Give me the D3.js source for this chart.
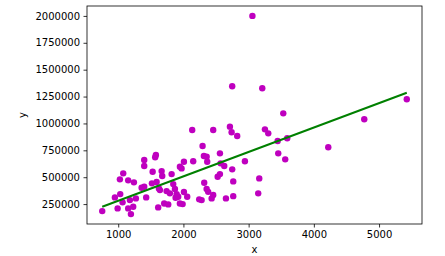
<!DOCTYPE html>
<html>
<head>
<meta charset="utf-8">
<script src="https://cdn.jsdelivr.net/npm/d3@7"></script>
<style>
  body { margin: 0; background: #fff; }
  svg { display: block; font-family: "DejaVu Sans", sans-serif; }
</style>
</head>
<body>
<svg id="chart" width="445" height="256"></svg>
<script>
// scatter data
const xValues = [755, 991, 949, 1031, 1067, 1026, 1077, 1153, 1241, 1153,
    1195, 1179, 1230, 1271, 1359, 1399, 1429, 1399, 1399, 1578,
    1567, 1528, 1517, 1589, 1613, 1666, 1675, 1624, 1640, 1705,
    1767, 1742, 1793, 1819, 1844, 1870, 1880, 1896, 1946, 1972,
    1920, 1946, 1988, 2008, 2058, 2008, 2135, 2150, 2242, 2279,
    2294, 2314, 2356, 2365, 2319, 2356, 2380, 2433, 2457, 2457,
    2560, 2570, 2626, 2525, 2560, 2652, 2713, 2739, 2825, 2748,
    2764, 2764, 2943, 3163, 3147, 2748, 3058, 3209, 3531, 3250,
    3301, 3445, 3592, 3454, 3561, 4221, 4773, 5425];
const yValues = [185000, 210000, 312000, 343000, 266000, 480000, 536000, 471000, 452000, 210000,
    157000, 287000, 225000, 303000, 402000, 411000, 312000, 604000, 660000, 706000,
    685000, 551000, 443000, 455000, 219000, 557000, 511000, 396000, 380000, 256000,
    247000, 371000, 350000, 529000, 436000, 390000, 309000, 343000, 597000, 582000,
    318000, 256000, 250000, 362000, 318000, 644000, 939000, 648000, 294000, 287000,
    790000, 697000, 690000, 644000, 448000, 390000, 364000, 303000, 334000, 939000,
    722000, 629000, 604000, 504000, 529000, 303000, 970000, 918000, 883000, 573000,
    461000, 324000, 648000, 489000, 350000, 1346000, 2000000, 1327000, 1094000, 945000,
    908000, 837000, 862000, 722000, 666000, 778000, 1039000, 1225000];

// fitted line end points
const lineX = [755, 5425];
const lineY = [225000, 1285000];

const xTicks = [1000, 2000, 3000, 4000, 5000];
const yTicks = [250000, 500000, 750000, 1000000, 1250000, 1500000, 1750000, 2000000];

const svg = d3.select("#chart");
const margin = { left: 87, right: 23, top: 6, bottom: 32 };
const W = 445, H = 256;

// matplotlib style 5% padding around the data
const pad = (ext) => {
    const r = ext[1] - ext[0];
    return [ext[0] - r * 0.05, ext[1] + r * 0.05];
};

const x = d3.scaleLinear()
    .domain(pad(d3.extent(xValues)))
    .range([margin.left, W - margin.right]);
const y = d3.scaleLinear()
    .domain(pad(d3.extent(yValues)))
    .range([H - margin.bottom, margin.top]);

const points = xValues.map((d, i) => ({ x: d, y: yValues[i] }));

svg.append("g")
    .selectAll("circle")
    .data(points)
    .join("circle")
    .attr("cx", d => x(d.x))
    .attr("cy", d => y(d.y))
    .attr("r", 3.2)
    .attr("fill", "#bf00bf");

svg.append("path")
    .datum(lineX.map((d, i) => [d, lineY[i]]))
    .attr("fill", "none")
    .attr("stroke", "#008000")
    .attr("stroke-width", 2)
    .attr("d", d3.line().x(d => x(d[0])).y(d => y(d[1])));

// axes
const xAxis = svg.append("g")
    .attr("transform", `translate(0,${H - margin.bottom})`)
    .call(d3.axisBottom(x).tickValues(xTicks).tickFormat(d3.format("d"))
        .tickSize(3.5).tickPadding(3.5).tickSizeOuter(0));
const yAxis = svg.append("g")
    .attr("transform", `translate(${margin.left},0)`)
    .call(d3.axisLeft(y).tickValues(yTicks).tickFormat(d3.format("d"))
        .tickSize(3.5).tickPadding(3.5).tickSizeOuter(0));

[xAxis, yAxis].forEach(g => {
    g.select(".domain").remove();
    g.selectAll("text").attr("font-size", 10).attr("fill", "#000")
        .attr("font-family", "DejaVu Sans, sans-serif");
    g.selectAll("line").attr("stroke", "#000").attr("stroke-width", 0.8);
});

// frame
svg.append("rect")
    .attr("x", margin.left)
    .attr("y", margin.top)
    .attr("width", W - margin.left - margin.right)
    .attr("height", H - margin.top - margin.bottom)
    .attr("fill", "none")
    .attr("stroke", "#000")
    .attr("stroke-width", 0.8);

svg.append("text")
    .attr("x", (margin.left + W - margin.right) / 2)
    .attr("y", 253)
    .attr("text-anchor", "middle")
    .attr("font-size", 10)
    .text("x");

svg.append("text")
    .attr("transform", `translate(26,${(margin.top + H - margin.bottom) / 2}) rotate(-90)`)
    .attr("text-anchor", "middle")
    .attr("font-size", 10)
    .text("y");
</script>
</body>
</html>
